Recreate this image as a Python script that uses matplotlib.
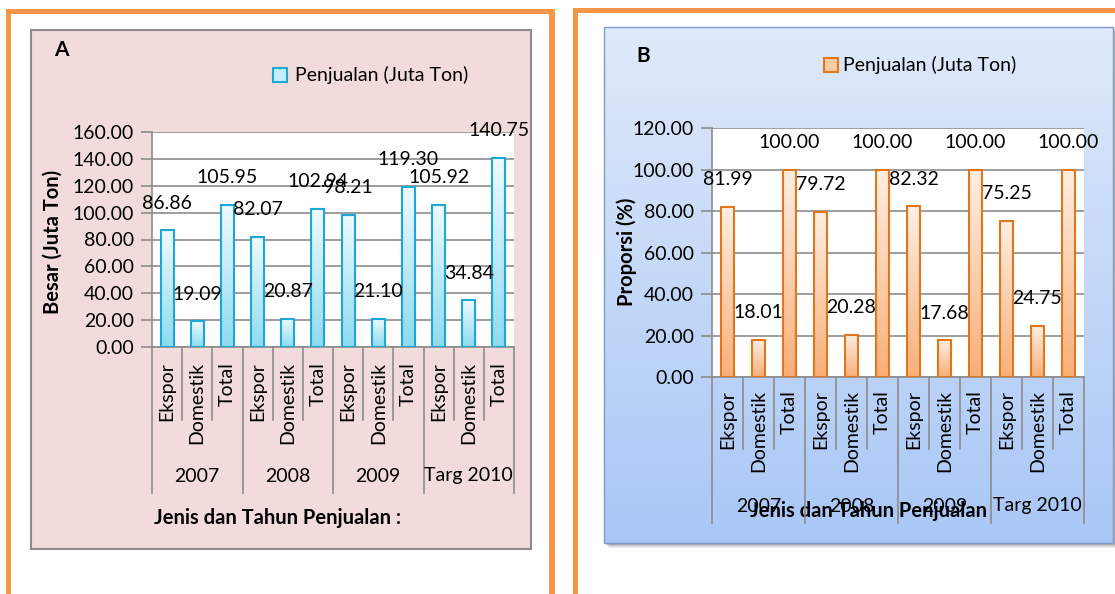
import matplotlib.pyplot as plt
import numpy as np
from matplotlib.colors import LinearSegmentedColormap
from matplotlib.patches import Rectangle

plt.rcParams['font.family'] = ['Lato', 'DejaVu Sans']

kinds = ["Ekspor", "Domestik", "Total"] * 4
years = ["2007", "2008", "2009", "Targ 2010"]
sales = [86.86, 19.09, 105.95, 82.07, 20.87, 102.94, 98.21, 21.10, 119.30, 105.92, 34.84, 140.75]
share = [81.99, 18.01, 100.00, 79.72, 20.28, 100.00, 82.32, 17.68, 100.00, 75.25, 24.75, 100.00]
series_name = "Penjualan (Juta Ton)"

W, H = 1115, 594
FS = 14
BFS = 14.5
ORANGE = "#F79646"
GRID = "#8C8C8C"

fig = plt.figure(figsize=(W / 100, H / 100), dpi=100)

# background layer in pixel coordinates
bg = fig.add_axes([0, 0, 1, 1])
bg.axis("off")


def block(x0, y0, x1, y1, **kw):
    bg.add_patch(Rectangle((x0, y0), x1 - x0, y1 - y0, **kw))


# orange frames
block(6, 9, 11, 594, color=ORANGE, lw=0)
block(6, 9, 555, 14, color=ORANGE, lw=0)
block(549, 9, 555, 594, color=ORANGE, lw=0)
block(573, 8, 578, 594, color=ORANGE, lw=0)
block(573, 8, 1115, 13, color=ORANGE, lw=0)

# panel A box
block(31, 30, 531, 549, facecolor="#F2DCDB", edgecolor="#8C8C8C", lw=1.5)

# panel B box with soft shadow and vertical gradient
for k, a in enumerate([0.10, 0.12, 0.15, 0.2]):
    off = 5 - k
    block(604 + off, 27 + off, 1113 + off, 543 + off, color="#555555", alpha=a, lw=0)
blue = LinearSegmentedColormap.from_list("blue", ["#DFE9F9", "#A9C7F6"])
bg.imshow(np.linspace(0, 1, 128).reshape(-1, 1), cmap=blue, aspect="auto",
          extent=(604, 1113, 543, 27), zorder=1)
block(604, 27, 1113, 543, fill=False, edgecolor="#7C9BCB", lw=1, zorder=2)

bg.set_xlim(0, W)
bg.set_ylim(H, 0)


def px_axes(x0, y0, x1, y1):
    return fig.add_axes([x0 / W, 1 - y1 / H, (x1 - x0) / W, (y1 - y0) / H])


def draw_panel(box, values, ymax, cols, short_y, long_y, kind_y, year_y):
    x0, y0, x1, y1 = box
    ax = px_axes(*box)
    frac = lambda y: (y1 - y) / (y1 - y0)
    top_col, bot_col, edge = cols
    cmap = LinearSegmentedColormap.from_list("bar", [bot_col, top_col])
    grad = np.linspace(0, 1, 64).reshape(-1, 1)
    width = 0.43
    for i, v in enumerate(values):
        x = i + 0.5
        ax.imshow(grad, cmap=cmap, origin="lower", aspect="auto", zorder=2,
                  extent=(x - width / 2, x + width / 2, 0, v))
        ax.bar(x, v, width, fill=False, edgecolor=edge, linewidth=1.5, zorder=3)
        ax.annotate(f"{v:.2f}", (x, v), xytext=(0, 19.5), textcoords="offset points",
                    ha="center", va="center", fontsize=FS, zorder=4, annotation_clip=False)

    ax.set_xlim(0, len(values))
    ax.set_ylim(0, ymax)
    ax.set_yticks(np.arange(0, ymax + 1, 20))
    ax.yaxis.set_major_formatter(lambda v, p: f"{v:.2f}")
    ax.set_xticks([])
    ax.tick_params(axis="y", length=8, width=1.2, color=GRID, pad=5, labelsize=FS)
    ax.grid(axis="y", color=GRID, lw=1.2)
    ax.set_axisbelow(True)
    for s in ["top", "right"]:
        ax.spines[s].set_visible(False)
    for s in ["left", "bottom"]:
        ax.spines[s].set_color(GRID)
        ax.spines[s].set_linewidth(1.2)

    # two-level category axis
    tr = ax.get_xaxis_transform()
    for k in range(len(values) + 1):
        yb = long_y if k % 3 == 0 else short_y
        ax.plot([k, k], [0, frac(yb)], color=GRID, lw=1.2, transform=tr, clip_on=False)
    for i, name in enumerate(kinds):
        ax.text(i + 0.5, frac(kind_y), name, rotation=90, ha="center", va="top",
                fontsize=FS, transform=tr)
    for g, yr in enumerate(years):
        ax.text(3 * g + 1.5, frac(year_y), yr, ha="center", va="center",
                fontsize=FS, transform=tr)
    return ax


draw_panel((152, 132, 514, 347), sales, 160, ("#EEFAFE", "#8FDBF0", "#1CA8D6"),
           420, 493, 362, 476)
draw_panel((712, 128, 1084, 377), share, 120, ("#FEEEE2", "#F8B07A", "#E0771C"),
           449, 523, 390, 506)

# panel titles, axis titles and legends
bg.text(61, 50, "A", fontsize=15, fontweight="bold", ha="center", va="center")
bg.text(643, 56, "B", fontsize=15, fontweight="bold", ha="center", va="center")
bg.text(53, 242, "Besar (Juta Ton)", rotation=90, fontsize=BFS, fontweight="bold",
        ha="center", va="center")
bg.text(627, 252, "Proporsi (%)", rotation=90, fontsize=BFS, fontweight="bold",
        ha="center", va="center")
bg.text(278, 518, "Jenis dan Tahun Penjualan :", fontsize=BFS, fontweight="bold",
        ha="center", va="center")
bg.text(869, 511, "Jenis dan Tahun Penjualan", fontsize=BFS, fontweight="bold",
        ha="center", va="center", zorder=5)

block(273, 68, 287, 82, facecolor="#C3EDF8", edgecolor="#1CA8D6", lw=1.5)
bg.text(295, 75, series_name, fontsize=FS, ha="left", va="center")
block(824, 58, 838, 72, facecolor="#FBCBA4", edgecolor="#E0771C", lw=1.5)
bg.text(843, 65, series_name, fontsize=FS, ha="left", va="center")

fig.savefig("out.png", dpi=100)
